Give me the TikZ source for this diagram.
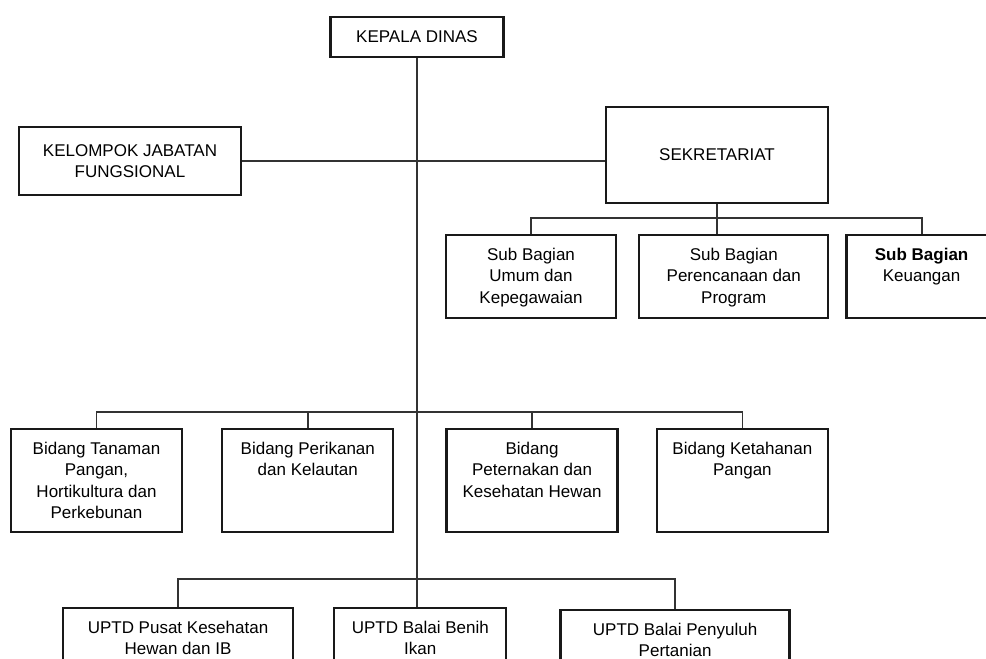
\documentclass[tikz,border=0pt]{standalone}
\usepackage{fontspec}
\setmainfont{Liberation Sans}
\usetikzlibrary{positioning}
\newcommand{\toplines}[1]{\begin{tabular}[t]{@{}c@{}}#1\end{tabular}}
\tikzset{
  unit/.style={rectangle, draw=black!90, line width=2.3pt, align=center, inner sep=0pt,
               font=\fontsize{17}{21.5}\selectfont},
  toptext/.style={text height=25pt, text depth=#1},
  link/.style={draw=black!80, line width=1.8pt},
}
\begin{document}
\begin{tikzpicture}[x=1pt, y=-1pt, node distance=38pt]
    \clip (0,0) rectangle (986,659);
    \node[unit, minimum width=173pt, minimum height=40pt] (kepala) at (417,37) {KEPALA DINAS};
    \node[unit, minimum width=222pt, minimum height=68pt] (fungsional) at (130,161)
      {KELOMPOK JABATAN\\FUNGSIONAL};
    \node[unit, minimum width=222pt, minimum height=96pt] (sekretariat) at (717,155) {SEKRETARIAT};
    \node[unit, toptext=58pt, minimum width=170pt, minimum height=83pt] (umum) at (531,276.5)
      {\toplines{Sub Bagian\\Umum dan\\Kepegawaian}};
    \node[unit, toptext=58pt, minimum width=189pt, minimum height=83pt, right=21pt of umum] (program)
      {\toplines{Sub Bagian\\Perencanaan dan\\Program}};
    \node[unit, toptext=58pt, minimum width=150pt, minimum height=83pt, right=16pt of program] (keuangan)
      {\toplines{\textbf{Sub Bagian}\\Keuangan}};
    \node[unit, toptext=78pt, minimum width=171pt, minimum height=103pt] (tanaman) at (96.5,480.5)
      {\toplines{Bidang Tanaman\\Pangan,\\Hortikultura dan\\Perkebunan}};
    \node[unit, toptext=78pt, minimum width=171pt, minimum height=103pt, right=of tanaman] (perikanan)
      {\toplines{Bidang Perikanan\\dan Kelautan}};
    \node[unit, toptext=78pt, minimum width=171pt, minimum height=103pt, right=51pt of perikanan] (peternakan)
      {\toplines{Bidang\\Peternakan dan\\Kesehatan Hewan}};
    \node[unit, toptext=78pt, minimum width=171pt, minimum height=103pt, right=37pt of peternakan] (ketahanan)
      {\toplines{Bidang Ketahanan\\Pangan}};
    \node[unit, toptext=75pt, minimum width=230pt, minimum height=100pt] (keswan) at (178,658)
      {\toplines{UPTD Pusat Kesehatan\\Hewan dan IB}};
    \node[unit, toptext=75pt, minimum width=172pt, minimum height=100pt, right=39pt of keswan] (benih)
      {\toplines{UPTD Balai Benih\\Ikan}};
    \node[unit, toptext=75pt, minimum width=229pt, minimum height=100pt, right=52pt of benih, yshift=-2pt] (penyuluh)
      {\toplines{UPTD Balai Penyuluh\\Pertanian}};
    \draw[link] (kepala.south) -- (kepala.south |- benih.north);
    \draw[link] (fungsional.east) -- (fungsional.east -| sekretariat.west);
    \draw[link] (sekretariat.south) -- (sekretariat.south |- program.north);
    \draw[link] (umum.north) -- ++(0,-16) -| (keuangan.north);
    \draw[link] (tanaman.north) -- ++(0,-16) -| (ketahanan.north);
    \draw[link] (perikanan.north) -- ++(0,-16);
    \draw[link] (peternakan.north) -- ++(0,-16);
    \draw[link] (keswan.north) -- ++(0,-28) -| (penyuluh.north);
\end{tikzpicture}
\end{document}
